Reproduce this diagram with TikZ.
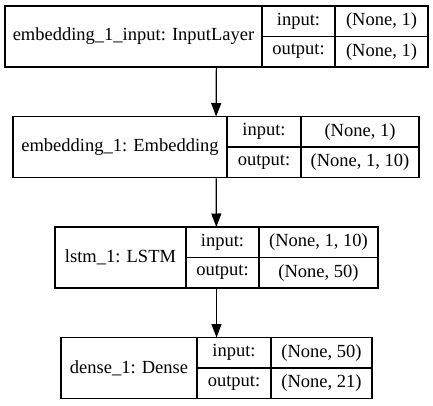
\documentclass[tikz,border=0pt]{standalone}
\usepackage{fontspec}
\setmainfont{Liberation Serif}
\newfontfamily\layerfont{Liberation Serif}
\usepackage{tikz}
\usetikzlibrary{arrows.meta, positioning, fit}
\tikzstyle{namecell} = [rectangle, draw=black, minimum height=61pt,
                        inner sep=0pt, outer sep=0pt, text centered,
                        line width=1.2pt]
\tikzstyle{halfcell} = [rectangle, draw=black, minimum height=30.5pt,
                        inner sep=0pt, outer sep=0pt, text centered,
                        line width=1.2pt]
\tikzstyle{layer}    = [inner sep=0pt, outer sep=0pt]
\tikzstyle{arrow}    = [line width=1.2pt,
                        -{Triangle[length=13.5pt, width=10pt]}]

\begin{document}
\begin{tikzpicture}[x=1pt, y=-1pt,
    font=\layerfont\fontsize{18.5}{22}\selectfont]
\useasboundingbox (0,0) rectangle (433,405);

% embedding_1_input
\node (inname) [namecell, minimum width=257pt, anchor=north west] at (5,6)
      {embedding\_1\_input: InputLayer};
\node (inin)   [halfcell, minimum width=73pt, below right=0pt and 0pt of inname.north east] {input:};
\node (inout)  [halfcell, minimum width=73pt, below=0pt of inin] {output:};
\node (ininv)  [halfcell, minimum width=93pt, right=0pt of inin]  {(None, 1)};
\node (inoutv) [halfcell, minimum width=93pt, right=0pt of inout] {(None, 1)};
\node (inlayer) [layer, fit=(inname)(inoutv)] {};

% embedding_1
\node (embname) [namecell, minimum width=214pt, anchor=north west] at (13,116.5)
      {embedding\_1: Embedding};
\node (embin)   [halfcell, minimum width=74pt, below right=0pt and 0pt of embname.north east] {input:};
\node (embout)  [halfcell, minimum width=74pt, below=0pt of embin] {output:};
\node (embinv)  [halfcell, minimum width=118pt, right=0pt of embin]  {(None, 1)};
\node (emboutv) [halfcell, minimum width=118pt, right=0pt of embout] {(None, 1, 10)};
\node (emblayer) [layer, fit=(embname)(emboutv)] {};

% lstm_1
\node (lstmname) [namecell, minimum width=131pt, anchor=north west] at (55,227)
      {lstm\_1: LSTM};
\node (lstmin)   [halfcell, minimum width=73pt, below right=0pt and 0pt of lstmname.north east] {input:};
\node (lstmout)  [halfcell, minimum width=73pt, below=0pt of lstmin] {output:};
\node (lstminv)  [halfcell, minimum width=119pt, right=0pt of lstmin]  {(None, 1, 10)};
\node (lstmoutv) [halfcell, minimum width=119pt, right=0pt of lstmout] {(None, 50)};
\node (lstmlayer) [layer, fit=(lstmname)(lstmoutv)] {};

% dense_1
\node (densename) [namecell, minimum width=136pt, anchor=north west] at (61,337.5)
      {dense\_1: Dense};
\node (densein)   [halfcell, minimum width=74pt, below right=0pt and 0pt of densename.north east] {input:};
\node (denseout)  [halfcell, minimum width=74pt, below=0pt of densein] {output:};
\node (denseinv)  [halfcell, minimum width=101pt, right=0pt of densein]  {(None, 50)};
\node (denseoutv) [halfcell, minimum width=101pt, right=0pt of denseout] {(None, 21)};
\node (denselayer) [layer, fit=(densename)(denseoutv)] {};

\draw [arrow] (inlayer)   -- (emblayer);
\draw [arrow] (emblayer)  -- (lstmlayer);
\draw [arrow] (lstmlayer) -- (denselayer);

\end{tikzpicture}
\end{document}
